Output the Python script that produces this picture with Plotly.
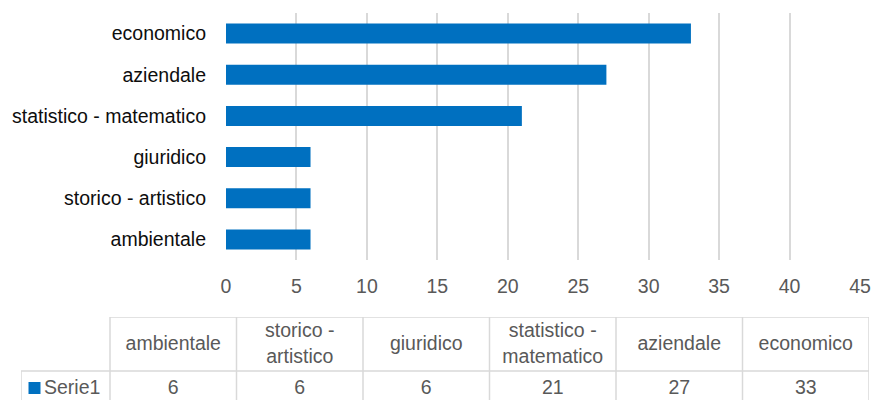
import plotly.graph_objects as go

# Categories (bottom to top in the bar chart, left to right in the table)
categories = ["ambientale", "storico - artistico", "giuridico",
              "statistico - matematico", "aziendale", "economico"]
table_headers = ["ambientale", "storico -<br>artistico", "giuridico",
                 "statistico -<br>matematico", "aziendale", "economico"]
values = [6, 6, 6, 21, 27, 33]
series_name = "Serie1"
x_ticks = [0, 5, 10, 15, 20, 25, 30, 35, 40, 45]

W, H = 872, 400
FONT = "Liberation Sans, Arial, sans-serif"
FS = 19.5
BLUE = "#0070C0"
GRID = "#D9D9D9"
TXT = "#595959"

# table geometry (pixels)
tbl_left, lbl_w, col_w = 21, 89, 126.5
tbl_top, row_split = 317, 371
head_mid, data_mid = 345, 389


def px_x(p):
    # pixel -> table x-axis units (column i spans i-0.5 .. i+0.5)
    return -0.5 - lbl_w / col_w + (p - tbl_left) / col_w


def px_y(p):
    # pixel -> table y-axis units
    return H - p


fig = go.Figure()

fig.add_trace(go.Bar(
    x=values, y=categories, orientation="h",
    marker=dict(color=BLUE, line=dict(width=0)),
    name=series_name, showlegend=False, hoverinfo="x+y",
))

n = len(categories)
cols = list(range(n))

# header row text
fig.add_trace(go.Scatter(
    x=cols, y=[px_y(head_mid)] * n, mode="text", text=table_headers,
    textfont=dict(family=FONT, size=FS, color=TXT),
    textposition="middle center", xaxis="x2", yaxis="y2",
    showlegend=False, hoverinfo="skip", cliponaxis=False,
))
# data row text
fig.add_trace(go.Scatter(
    x=cols, y=[px_y(data_mid)] * n, mode="text", text=[str(v) for v in values],
    textfont=dict(family=FONT, size=FS, color=TXT),
    textposition="middle center", xaxis="x2", yaxis="y2",
    showlegend=False, hoverinfo="skip", cliponaxis=False,
))
# series key
fig.add_trace(go.Scatter(
    x=[px_x(34.5)], y=[px_y(data_mid - 1)], mode="markers",
    marker=dict(symbol="square", size=12, color=BLUE, line=dict(width=0)),
    xaxis="x2", yaxis="y2",
    showlegend=False, hoverinfo="skip", cliponaxis=False,
))
# series name
fig.add_trace(go.Scatter(
    x=[px_x(44)], y=[px_y(data_mid)], mode="text", text=[series_name],
    textfont=dict(family=FONT, size=FS, color=TXT),
    textposition="middle right", xaxis="x2", yaxis="y2",
    showlegend=False, hoverinfo="skip", cliponaxis=False,
))

# table borders
shapes = []
line = dict(color=GRID, width=1.5)
x_first = -0.5
x_last = n - 0.5
x_lbl = px_x(tbl_left)
shapes.append(dict(type="line", xref="x2", yref="y2", x0=x_first, x1=x_last,
                   y0=px_y(tbl_top), y1=px_y(tbl_top), line=line))
shapes.append(dict(type="line", xref="x2", yref="y2", x0=x_lbl, x1=x_last,
                   y0=px_y(row_split), y1=px_y(row_split), line=line))
for i in range(n + 1):
    xv = i - 0.5
    shapes.append(dict(type="line", xref="x2", yref="y2", x0=xv, x1=xv,
                       y0=0, y1=px_y(tbl_top), line=line))
shapes.append(dict(type="line", xref="x2", yref="y2", x0=x_lbl, x1=x_lbl,
                   y0=0, y1=px_y(row_split), line=line))

fig.update_layout(
    width=W, height=H,
    margin=dict(l=0, r=0, t=0, b=0, autoexpand=False),
    paper_bgcolor="white", plot_bgcolor="white",
    font=dict(family=FONT, size=FS, color=TXT),
    bargap=0.515,
    xaxis=dict(
        domain=[226 / W, 860 / W], range=[0, 45],
        tickvals=x_ticks, ticks="", showline=False, zeroline=False,
        showgrid=True, gridcolor=GRID, gridwidth=1.5, automargin=False,
        tickfont=dict(family=FONT, size=FS, color=TXT),
        ticklabelstandoff=12, fixedrange=True,
    ),
    yaxis=dict(
        domain=[1 - 260 / H, 1 - 13 / H],
        categoryorder="array", categoryarray=categories,
        ticks="", showline=False, showgrid=False, zeroline=False,
        automargin=False,
        tickfont=dict(family=FONT, size=FS, color="#0D0D0D"),
        ticklabelstandoff=19, fixedrange=True,
    ),
    xaxis2=dict(
        domain=[tbl_left / W, 869 / W], range=[px_x(tbl_left), x_last],
        visible=False, anchor="y2", fixedrange=True, automargin=False,
    ),
    yaxis2=dict(
        domain=[0, (H - tbl_top) / H], range=[0, H - tbl_top],
        visible=False, anchor="x2", fixedrange=True, automargin=False,
    ),
    shapes=shapes,
)

fig.write_html("out.html")
